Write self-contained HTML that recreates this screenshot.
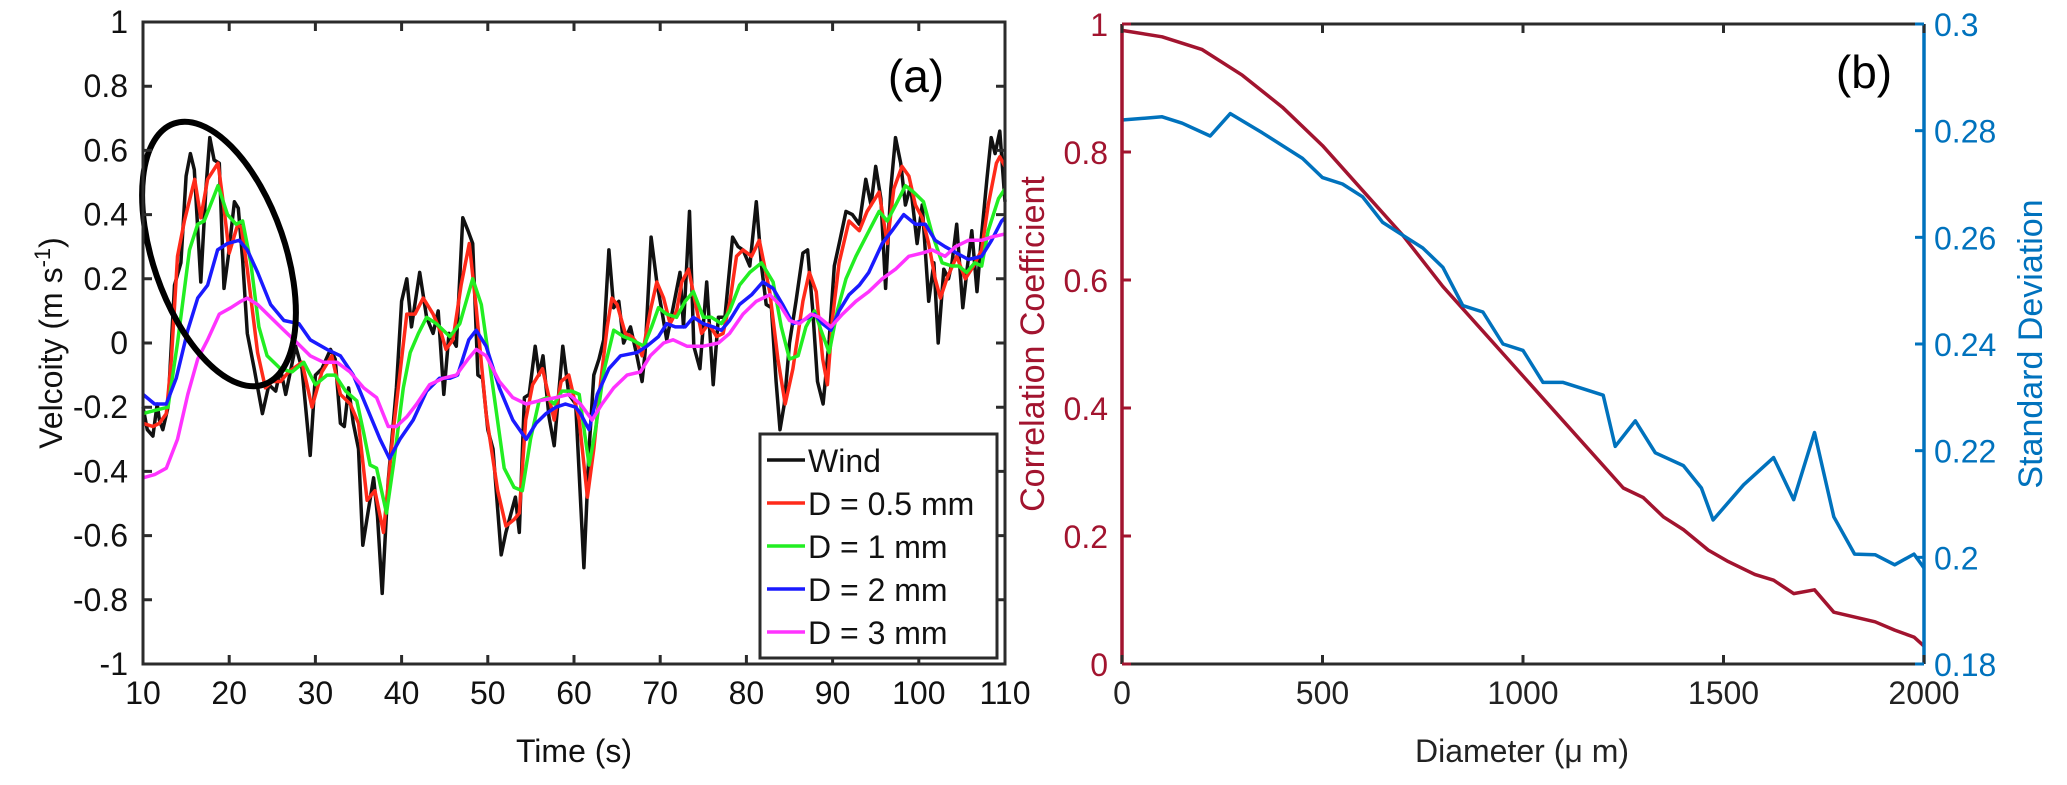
<!DOCTYPE html>
<html><head><meta charset="utf-8"><style>
html,body{margin:0;padding:0;background:#fff;}
svg{display:block;font-family:"Liberation Sans",Arial,sans-serif;}
</style></head><body>
<svg id="fig" width="2067" height="785" viewBox="0 0 2067 785" xmlns="http://www.w3.org/2000/svg">
<rect x="0" y="0" width="2067" height="785" fill="#fff"/>
<g id="pa"></g>
<g id="pb"></g>
</svg>
<script>
// ---------- Panel (a) data ----------
const windT=[10,10.5,11.15,11.65,11.9,12.3,12.9,13.65,14.4,15,15.5,15.95,16.7,17.3,17.75,18.25,18.85,19.4,19.9,20.6,21.05,21.55,22.1,22.9,23.85,24.6,25.4,25.95,26.55,27.7,28.45,29.4,30,30.75,31.75,32.3,32.9,33.35,33.85,34.4,35,35.5,36.15,36.75,37.2,37.75,38.45,39.4,40,40.6,41.15,42.1,42.9,43.65,44.25,44.9,45.5,46.35,47.1,47.7,48.25,48.85,49.4,50,50.6,51.55,52.1,53.2,53.65,54.25,54.8,55.5,55.95,56.4,57.1,57.7,58.7,59.4,60.2,61.15,61.75,62.3,62.9,63.45,64.05,64.6,65.2,65.75,66.55,67.3,67.9,68.25,68.95,69.6,70.2,70.75,71.5,72.3,72.7,73.4,73.9,74.6,75.4,76.15,76.75,77.5,78.4,79.05,79.6,80.4,81.15,81.75,82.3,82.9,83.45,83.9,84.4,85,85.75,86.55,87.1,87.7,88.25,88.9,89.6,90.2,90.85,91.55,92.3,93.1,93.85,94.45,95,95.6,96.15,96.75,97.3,97.9,98.45,99.05,99.8,100.4,101.15,101.75,102.25,102.9,103.45,103.85,104.4,105.1,105.6,106.15,106.75,107.3,107.9,108.4,108.85,109.4,110];
const windV=[-0.20,-0.27,-0.29,-0.19,-0.24,-0.27,-0.20,0.18,0.25,0.52,0.59,0.54,0.19,0.48,0.64,0.57,0.56,0.17,0.27,0.44,0.42,0.26,0.03,-0.08,-0.22,-0.13,-0.15,-0.08,-0.16,-0.01,-0.08,-0.35,-0.10,-0.08,-0.02,-0.05,-0.25,-0.26,-0.14,-0.25,-0.33,-0.63,-0.52,-0.42,-0.54,-0.78,-0.43,-0.14,0.13,0.20,0.05,0.22,0.08,0.03,0.10,-0.16,0.03,-0.01,0.39,0.35,0.31,-0.10,-0.11,-0.27,-0.33,-0.66,-0.59,-0.48,-0.59,-0.17,-0.16,-0.01,-0.10,-0.04,-0.23,-0.32,-0.01,-0.16,-0.19,-0.70,-0.33,-0.10,-0.05,0.01,0.29,0.11,0.13,0.00,0.05,-0.04,-0.12,-0.03,0.33,0.19,0.10,0.01,0.11,0.22,0.05,0.41,-0.01,-0.08,0.19,-0.13,0.08,0.08,0.33,0.30,0.29,0.24,0.44,0.24,0.12,0.11,-0.12,-0.27,-0.19,0.00,0.13,0.28,0.29,0.10,-0.12,-0.19,0.01,0.24,0.32,0.41,0.40,0.37,0.51,0.43,0.55,0.45,0.17,0.48,0.64,0.56,0.43,0.49,0.31,0.43,0.13,0.25,0.00,0.23,0.20,0.25,0.37,0.11,0.23,0.35,0.16,0.34,0.51,0.64,0.59,0.66,0.44];
const d05T=[10,11.15,11.9,12.7,13.3,14,14.8,16,16.7,17.5,18.7,19.4,20,21,21.4,22.1,23.3,24.2,25,25.95,26.9,28.45,29.6,30.75,31.9,32.9,34.05,35,36,36.9,37.9,39.05,40,40.6,41.55,42.5,43.65,44.6,45.15,45.95,46.9,47.85,48.65,49.8,51.15,52.1,53.05,53.65,54.4,55.2,56.35,57.7,58.5,59.4,60.6,61.55,62.3,63.1,63.85,64.4,65,65.95,66.7,67.3,67.9,68.85,69.6,70.4,71.15,71.9,72.5,73.3,74.05,74.8,75.6,76.55,77.3,78.1,78.85,79.6,80.6,81.5,82.7,83.65,84.5,85.4,86.55,87.3,88.1,88.85,89.4,90,90.75,91.9,93.1,94,95.4,96.35,97.1,98.05,98.85,99.6,100.4,101.15,101.9,102.5,103.25,104.4,105.4,106.35,107.3,108.05,109,109.4,110];
const d05V=[-0.25,-0.26,-0.25,-0.22,-0.05,0.27,0.38,0.51,0.39,0.51,0.56,0.42,0.28,0.37,0.36,0.23,-0.03,-0.14,-0.12,-0.12,-0.09,-0.06,-0.20,-0.09,-0.04,-0.16,-0.19,-0.25,-0.49,-0.46,-0.59,-0.27,-0.05,0.09,0.09,0.14,0.09,0.03,-0.02,0.01,0.18,0.31,0.11,-0.22,-0.46,-0.57,-0.55,-0.53,-0.24,-0.13,-0.08,-0.24,-0.12,-0.10,-0.24,-0.48,-0.33,-0.12,0.05,0.14,0.12,0.03,0.02,0.00,-0.04,0.10,0.19,0.14,0.06,0.10,0.19,0.23,0.13,0.03,0.06,0.02,0.03,0.13,0.27,0.29,0.27,0.32,0.16,-0.05,-0.19,-0.08,0.13,0.22,0.16,-0.05,-0.13,0.08,0.25,0.38,0.35,0.41,0.47,0.31,0.48,0.55,0.52,0.43,0.39,0.31,0.20,0.14,0.20,0.27,0.20,0.24,0.29,0.43,0.56,0.58,0.55];
const d1T=[10,11.35,12.9,14,15.4,16.35,17.1,18.7,19.8,20.8,21.55,22.5,23.45,24.4,25.95,27.3,28.65,30,31.35,32.3,33.5,34.8,35.6,36.35,37.1,38.25,39.05,40.2,41,41.95,42.9,44.05,45.6,46.75,48.25,49.25,50.6,51.9,53.05,54,54.95,55.95,56.9,57.7,58.6,59.75,60.6,61.75,62.5,63.45,64.6,65.75,66.7,68.1,69,69.8,70.75,71.9,72.9,73.85,75,75.95,77.1,78.05,79.2,80.4,81.75,83.1,84.05,85,86,86.9,87.9,88.65,89.6,90.55,91.55,92.7,93.85,95.4,96.35,97.5,98.45,99.4,100.55,101.55,102.7,103.85,104.6,105.55,106.5,107.3,108.05,109.25,110];
const d1V=[-0.22,-0.21,-0.20,0.00,0.29,0.37,0.38,0.49,0.40,0.37,0.38,0.25,0.05,-0.04,-0.08,-0.09,-0.06,-0.13,-0.10,-0.10,-0.15,-0.18,-0.28,-0.38,-0.39,-0.53,-0.38,-0.14,-0.03,0.03,0.08,0.06,0.02,0.06,0.20,0.12,-0.14,-0.39,-0.45,-0.46,-0.30,-0.18,-0.17,-0.19,-0.15,-0.15,-0.16,-0.38,-0.27,-0.09,0.04,0.02,0.01,-0.01,0.05,0.11,0.09,0.08,0.13,0.16,0.08,0.08,0.06,0.10,0.18,0.22,0.25,0.19,0.05,-0.05,-0.04,0.05,0.10,0.04,-0.03,0.10,0.20,0.27,0.33,0.41,0.38,0.44,0.49,0.47,0.44,0.34,0.25,0.24,0.24,0.22,0.25,0.24,0.35,0.45,0.48];
const d2T=[10,11.35,12.7,13.85,15.2,16.35,17.5,18.65,19.8,21.15,22.1,23.3,24.8,26.35,28.1,29.4,31.35,32.9,34.4,35.95,37.5,38.6,39.8,41.35,42.9,44.4,45.6,46.5,47.8,48.65,49.8,51.35,52.9,54.45,55.6,56.75,57.9,59,60.2,60.75,61.75,62.7,64.05,65.4,67.3,68.45,69.8,70.75,71.75,72.9,73.85,75,76.15,77.1,78.05,79.2,80.6,81.9,83.1,84.2,85.4,86.55,87.9,88.85,89.8,90.75,91.9,93.1,94.2,95.75,96.9,98.25,99.6,100.75,101.9,103.05,104.4,105.75,107.3,108.45,109.6,110];
const d2V=[-0.16,-0.19,-0.19,-0.11,0.04,0.14,0.18,0.29,0.31,0.32,0.29,0.22,0.12,0.07,0.06,0.01,-0.02,-0.04,-0.10,-0.20,-0.30,-0.36,-0.30,-0.24,-0.15,-0.11,-0.11,-0.10,0.01,0.04,-0.01,-0.14,-0.24,-0.30,-0.25,-0.22,-0.20,-0.19,-0.20,-0.22,-0.27,-0.16,-0.08,-0.04,-0.03,-0.01,0.02,0.06,0.05,0.05,0.08,0.06,0.05,0.04,0.07,0.12,0.15,0.19,0.17,0.12,0.06,0.07,0.09,0.06,0.04,0.10,0.15,0.18,0.22,0.31,0.35,0.40,0.37,0.37,0.32,0.30,0.28,0.26,0.27,0.32,0.38,0.39];
const d3T=[10,11.35,12.7,14,15.2,16.35,17.5,18.85,20.2,21.35,22.1,23.3,24.8,26.35,27.9,29.4,30.95,32.5,34,35.6,37.1,38.45,39.4,40.6,41.75,43.25,44.8,46.35,47.7,48.65,49.8,51.35,52.9,54.45,55.95,57.9,59.4,60.75,62.1,63.25,64.6,66.15,67.7,68.85,70.4,71.5,73.1,75,76.75,78.05,79.6,81.15,82.7,83.85,85,86.15,87.5,88.45,89.8,91.15,92.7,94.2,95.75,97.3,98.85,100.4,101.55,103.05,104.25,105.75,107.3,108.45,110];
const d3V=[-0.42,-0.41,-0.39,-0.30,-0.16,-0.05,0.01,0.09,0.11,0.13,0.14,0.12,0.08,0.04,0.00,-0.04,-0.06,-0.06,-0.09,-0.14,-0.17,-0.26,-0.26,-0.23,-0.19,-0.13,-0.11,-0.10,-0.05,-0.02,-0.04,-0.12,-0.17,-0.19,-0.18,-0.17,-0.16,-0.19,-0.24,-0.19,-0.14,-0.10,-0.09,-0.04,0.00,0.01,-0.01,-0.01,0.00,0.03,0.09,0.13,0.15,0.12,0.07,0.06,0.09,0.08,0.05,0.09,0.13,0.16,0.20,0.23,0.27,0.28,0.29,0.27,0.30,0.32,0.32,0.33,0.34];
const timeTicks=[10,20,30,40,50,60,70,80,90,100,110];
const velTicks=[-1,-0.8,-0.6,-0.4,-0.2,0,0.2,0.4,0.6,0.8,1];
const velTickLabels=["-1","-0.8","-0.6","-0.4","-0.2","0","0.2","0.4","0.6","0.8","1"];
const legendLabels=["Wind","D = 0.5 mm","D = 1 mm","D = 2 mm","D = 3 mm"];

// ---------- Panel (b) data ----------
const corrD=[0,100,200,300,400,500,600,700,800,900,1000,1100,1200,1250,1300,1350,1400,1462,1512,1578,1625,1675,1727,1775,1878,1927,1975,2000];
const corrV=[0.99,0.98,0.96,0.92,0.87,0.81,0.74,0.67,0.59,0.52,0.45,0.38,0.31,0.275,0.26,0.23,0.21,0.178,0.16,0.14,0.131,0.11,0.116,0.081,0.066,0.053,0.042,0.028];
const stdD=[0,100,150,220,270,350,450,500,550,600,650,700,750,800,850,900,950,1000,1050,1100,1150,1200,1230,1280,1330,1400,1445,1474,1550,1625,1675,1727,1775,1827,1878,1927,1975,2000];
const stdV=[0.282,0.2826,0.2814,0.279,0.2832,0.2796,0.2748,0.2712,0.270,0.2676,0.2628,0.2604,0.258,0.2544,0.2472,0.246,0.240,0.2388,0.2328,0.2328,0.2316,0.2304,0.2208,0.2256,0.2196,0.2172,0.213,0.207,0.2136,0.2187,0.2108,0.2234,0.2076,0.2006,0.2005,0.1986,0.2006,0.198];
const diamTicks=[0,500,1000,1500,2000];
const corrTicks=[0,0.2,0.4,0.6,0.8,1];
const corrTickLabels=["0","0.2","0.4","0.6","0.8","1"];
const stdTicks=[0.18,0.2,0.22,0.24,0.26,0.28,0.3];
const stdTickLabels=["0.18","0.2","0.22","0.24","0.26","0.28","0.3"];

const NS="http://www.w3.org/2000/svg";
const pa=document.getElementById('pa'), pb=document.getElementById('pb');
function mk(parent,tag,attrs,text){const e=document.createElementNS(NS,tag);for(const k in attrs)e.setAttribute(k,attrs[k]);if(text!==undefined)e.textContent=text;parent.appendChild(e);return e;}

const AX0=143,AX1=1005,AY0=22,AY1=664;
function xa(t){return AX0+(t-10)/100*(AX1-AX0);}
function ya(v){return AY0+(1-v)/2*(AY1-AY0);}
const BX0=1122,BX1=1924,BY0=24,BY1=664;
function xb(d){return BX0+d/2000*(BX1-BX0);}
function yb(c){return BY1-c*(BY1-BY0);}
function ys(s){return BY1-(s-0.18)/0.12*(BY1-BY0);}
function pathFrom(xs,ys_,fx,fy){let s='';for(let i=0;i<xs.length;i++)s+=(i?'L':'M')+fx(xs[i]).toFixed(1)+','+fy(ys_[i]).toFixed(1);return s;}

const dark='#2b2b2b';
const seriesA=[[windT,windV,'#111','series-wind'],[d05T,d05V,'#ff2a1a','series-d05mm'],[d1T,d1V,'#22ee22','series-d1mm'],[d2T,d2V,'#1a1aff','series-d2mm'],[d3T,d3V,'#ff33ff','series-d3mm']];
for(const s of seriesA){
  const p=mk(pa,'path',{d:pathFrom(s[0],s[1],xa,ya),fill:'none',stroke:s[2],'stroke-width':3.5,'stroke-linejoin':'round'});
  
  
}
const ell=mk(pa,'ellipse',{cx:219,cy:254,rx:66,ry:138,fill:'none',stroke:'#000','stroke-width':6,transform:'rotate(-19 219 254)'});


const boxA=mk(pa,'rect',{x:AX0,y:AY0,width:AX1-AX0,height:AY1-AY0,fill:'none',stroke:dark,'stroke-width':3});


for(const t of timeTicks){
  const x=xa(t);
  const tk=mk(pa,'path',{d:`M${x},${AY1}V${AY1-9}M${x},${AY0}V${AY0+9}`,stroke:dark,'stroke-width':3});
  
  
  const lb=mk(pa,'text',{x:x,y:704,'font-size':32,'text-anchor':'middle',fill:'#111'},String(t));
  
  
}
velTicks.forEach((v,i)=>{
  const y=ya(v);
  const tk=mk(pa,'path',{d:`M${AX0},${y}H${AX0+9}M${AX1},${y}H${AX1-9}`,stroke:dark,'stroke-width':3});
  
  
  const lb=mk(pa,'text',{x:128,y:y+11,'font-size':32,'text-anchor':'end',fill:'#111'},velTickLabels[i]);
  
  
});
const xt=mk(pa,'text',{x:574,y:762,'font-size':32,'text-anchor':'middle',fill:'#111'},'Time (s)');


const yt=mk(pa,'text',{x:0,y:0,'font-size':32,'text-anchor':'middle',fill:'#111',transform:'translate(62,343) rotate(-90)'});


yt.innerHTML='Velcoity (m s<tspan dy="-12" font-size="22">-1</tspan><tspan dy="12">)</tspan>';
const la=mk(pa,'text',{x:916,y:92,'font-size':46,'text-anchor':'middle',fill:'#000'},'(a)');


const lg=mk(pa,'g',{});


const lgb=mk(lg,'rect',{x:760,y:434,width:237,height:224,fill:'#fff',stroke:dark,'stroke-width':3});


const legCols=['#111','#ff2a1a','#22ee22','#1a1aff','#ff33ff'];
legendLabels.forEach((t,i)=>{
  const y=460+i*43;
  const ln=mk(lg,'line',{x1:767,x2:805,y1:y,y2:y,stroke:legCols[i],'stroke-width':3.5});
  
  
  const tx=mk(lg,'text',{x:808,y:y+12,'font-size':32,fill:'#111'},t);
  
  
});

const red='#a2142f', blue='#0072bd';
const cp=mk(pb,'path',{d:pathFrom(corrD,corrV,xb,yb),fill:'none',stroke:red,'stroke-width':3.5,'stroke-linejoin':'round'});


const sp=mk(pb,'path',{d:pathFrom(stdD,stdV,xb,ys),fill:'none',stroke:blue,'stroke-width':3.5,'stroke-linejoin':'round'});


const fr=mk(pb,'path',{d:`M${BX0},${BY0}H${BX1}M${BX0},${BY1}H${BX1}`,stroke:dark,'stroke-width':3});


const la2=mk(pb,'line',{x1:BX0,x2:BX0,y1:BY0,y2:BY1,stroke:red,'stroke-width':3.5});


const ra2=mk(pb,'line',{x1:BX1,x2:BX1,y1:BY0,y2:BY1,stroke:blue,'stroke-width':3.5});


for(const d of diamTicks){
  const x=xb(d);
  const tk=mk(pb,'path',{d:`M${x},${BY1}V${BY1-9}M${x},${BY0}V${BY0+9}`,stroke:dark,'stroke-width':3});
  
  
  const lb=mk(pb,'text',{x:x,y:704,'font-size':32,'text-anchor':'middle',fill:'#222'},String(d));
  
  
}
corrTicks.forEach((c,i)=>{
  const y=yb(c);
  const tk=mk(pb,'line',{x1:BX0,x2:BX0+9,y1:y,y2:y,stroke:red,'stroke-width':3});
  
  
  const lb=mk(pb,'text',{x:1108,y:y+12,'font-size':32,'text-anchor':'end',fill:red},corrTickLabels[i]);
  
  
});
stdTicks.forEach((s,i)=>{
  const y=ys(s);
  const tk=mk(pb,'line',{x1:BX1,x2:BX1-9,y1:y,y2:y,stroke:blue,'stroke-width':3});
  
  
  const lb=mk(pb,'text',{x:1934,y:y+12,'font-size':32,fill:blue},stdTickLabels[i]);
  
  
});
const bx=mk(pb,'text',{x:1522,y:762,'font-size':32,'text-anchor':'middle',fill:'#222'},'Diameter (\u03bc m)');


const byl=mk(pb,'text',{x:0,y:0,'font-size':34,'text-anchor':'middle',fill:red,transform:'translate(1044,344) rotate(-90)'},'Correlation Coefficient');


const byr=mk(pb,'text',{x:0,y:0,'font-size':34,'text-anchor':'middle',fill:blue,transform:'translate(2042,344) rotate(-90)'},'Standard Deviation');


const lbb=mk(pb,'text',{x:1864,y:88,'font-size':46,'text-anchor':'middle',fill:'#000'},'(b)');


</script>
</body></html>
